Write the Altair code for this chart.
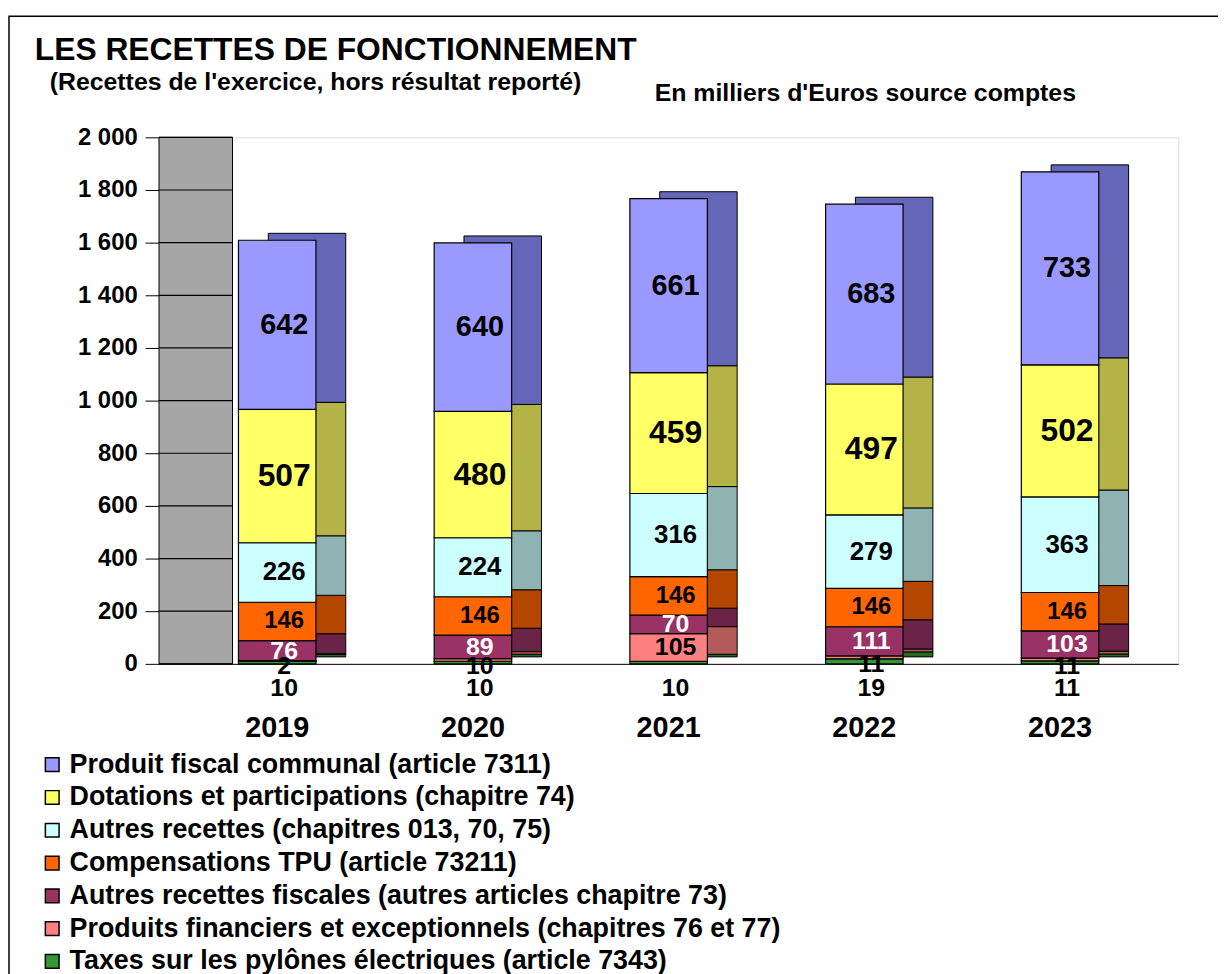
import altair as alt
import pandas as pd

years = ["2019", "2020", "2021", "2022", "2023"]
series = [
    "Produit fiscal communal (article 7311)",
    "Dotations et participations (chapitre 74)",
    "Autres recettes (chapitres 013, 70, 75)",
    "Compensations TPU (article 73211)",
    "Autres recettes fiscales (autres articles chapitre 73)",
    "Produits financiers et exceptionnels (chapitres 76 et 77)",
    "Taxes sur les pylônes électriques (article 7343)",
]
produit_fiscal = [642, 640, 661, 683, 733]
dotations = [507, 480, 459, 497, 502]
autres_recettes = [226, 224, 316, 279, 363]
compensations_tpu = [146, 146, 146, 146, 146]
autres_fiscales = [76, 89, 70, 111, 103]
produits_financiers = [2, 10, 105, 11, 11]
taxes_pylones = [10, 10, 10, 19, 11]
y_ticks = [0, 200, 400, 600, 800, 1000, 1200, 1400, 1600, 1800, 2000]

title_text = "LES RECETTES DE FONCTIONNEMENT"
subtitle_text = "(Recettes de l'exercice, hors résultat reporté)"
note_text = "En milliers d'Euros source comptes"

values = [produit_fiscal, dotations, autres_recettes, compensations_tpu,
          autres_fiscales, produits_financiers, taxes_pylones]
front_colors = ["#9999FF", "#FFFF66", "#CCFFFF", "#FF6600", "#993366", "#FF8080", "#339933"]
side_colors = ["#6666B8", "#B3B347", "#8FB3B3", "#B34700", "#6B2447", "#B35A5A", "#236B23"]
label_sizes = [29, 32, 26, 24, 25, 25, 25]
label_colors = ["black", "black", "black", "black", "white", "black", "black"]

rows = []
for yi, yr in enumerate(years):
    base = 0
    for si in range(len(series) - 1, -1, -1):
        v = values[si][yi]
        rows.append({
            "year": yr, "series": series[si], "order": len(series) - si,
            "value": v, "y0": base, "y1": base + v, "mid": base + v / 2,
            "size": label_sizes[si], "lcolor": label_colors[si], "sidx": si,
        })
        base += v
df = pd.DataFrame(rows)
ticks_df = pd.DataFrame({"tick": y_ticks})

FONT = "Liberation Sans"
xscale = alt.Scale(paddingInner=0.6, paddingOuter=0.404)
yscale = alt.Scale(domain=[0, 2000], nice=False)

# decorative grey back wall on the left of the plot
wall = alt.Chart(alt.Data(values=[{"a": 0}])).mark_rect(color="#A6A6A6", stroke="black",
                                                        strokeWidth=1).encode(
    x=alt.value(0), x2=alt.value(74),
    y=alt.datum(0, scale=yscale), y2=alt.datum(2000),
)
wall_grid = alt.Chart(ticks_df).mark_rule(color="black", strokeWidth=1.2).encode(
    x=alt.value(0), x2=alt.value(74),
    y=alt.Y("tick:Q", scale=yscale),
)

xenc = alt.X("year:N", title=None, sort=years, scale=xscale,
             axis=alt.Axis(labelAngle=0, labelFontSize=29, labelFontWeight="bold",
                           labelColor="black", labelPadding=50, domainColor="black",
                           ticks=False, labelFont=FONT))

side = alt.Chart(df).mark_bar(xOffset=30, x2Offset=30, yOffset=-7, y2Offset=-7,
                              stroke="black", strokeWidth=1, size=78).encode(
    x=xenc,
    y=alt.Y("y0:Q", scale=yscale, title=None,
            axis=alt.Axis(values=y_ticks,
                          labelExpr="replace(format(datum.value, ','), ',', ' ')",
                          labelFontSize=24, labelFontWeight="bold", labelColor="black",
                          labelFont=FONT, labelPadding=8, tickSize=14, tickColor="black",
                          domainColor="black", gridColor="black", gridWidth=1)),
    y2="y1:Q",
    color=alt.Color("series:N", scale=alt.Scale(domain=series, range=side_colors), legend=None),
)

front = alt.Chart(df).mark_bar(stroke="black", strokeWidth=1.2, size=78).encode(
    x=alt.X("year:N", sort=years, scale=xscale),
    y=alt.Y("y0:Q", scale=yscale),
    y2="y1:Q",
    color=alt.Color("series:N", sort=series,
                    scale=alt.Scale(domain=series, range=front_colors),
                    legend=alt.Legend(title=None, orient="none", legendX=-121, legendY=618,
                                      direction="vertical", labelFontSize=27,
                                      labelFontWeight="bold", labelColor="black",
                                      labelFont=FONT, labelLimit=1000,
                                      symbolType="square", symbolSize=190,
                                      symbolStrokeColor="black", symbolStrokeWidth=1.5,
                                      symbolOpacity=1, rowPadding=5, labelOffset=4)),
    order=alt.Order("order:Q"),
)

big = df[(df["value"] >= 30)]
labels_in = alt.Chart(big).mark_text(fontWeight="bold", font=FONT, dx=7).encode(
    x=alt.X("year:N", sort=years, scale=xscale),
    y=alt.Y("mid:Q", scale=yscale),
    text=alt.Text("value:Q"),
    size=alt.Size("size:Q", scale=None, legend=None),
    color=alt.Color("lcolor:N", scale=None, legend=None),
)

small_fin = df[(df["value"] < 30) & (df["sidx"] == 5)]
labels_fin = alt.Chart(small_fin).mark_text(fontWeight="bold", font=FONT, fontSize=25,
                                             baseline="top", dy=-7, dx=7, color="black").encode(
    x=alt.X("year:N", sort=years, scale=xscale),
    y=alt.Y("y0:Q", scale=yscale),
    text=alt.Text("value:Q"),
)
small_pyl = df[(df["value"] < 30) & (df["sidx"] == 6)]
labels_pyl = alt.Chart(small_pyl).mark_text(fontWeight="bold", font=FONT, fontSize=25,
                                             baseline="top", dy=12, dx=7, color="black").encode(
    x=alt.X("year:N", sort=years, scale=xscale),
    y=alt.Y("y0:Q", scale=yscale),
    text=alt.Text("value:Q"),
)


def caption(text, size, x, y):
    return alt.Chart(alt.Data(values=[{"t": text}])).mark_text(
        fontSize=size, fontWeight="bold", font=FONT, align="left", baseline="alphabetic",
        color="black"
    ).encode(x=alt.value(x), y=alt.value(y), text="t:N")


title = caption(title_text, 32, -125, -78)
subtitle = caption(subtitle_text, 25, -110, -48)
note = caption(note_text, 25, 499, -37)

frame = alt.Chart(alt.Data(values=[{"a": 0}])).mark_rect(fill=None, stroke="black",
                                                         strokeWidth=1.5).encode(
    x=alt.value(-151), x2=alt.value(1080), y=alt.value(-122), y2=alt.value(850),
)

chart = alt.layer(wall, wall_grid, side, front, labels_in, labels_fin, labels_pyl,
                  title, subtitle, note, frame).resolve_scale(color="independent").properties(
    width=1026, height=530,
    autosize=alt.AutoSizeParams(type="none"),
    padding={"left": 152, "top": 127, "right": 40, "bottom": 309},
).configure_view(stroke=None).configure(background="white")

chart.save("out.html", embed_options={"renderer": "svg", "actions": False})
